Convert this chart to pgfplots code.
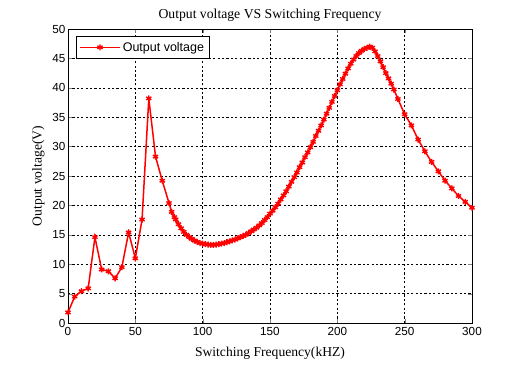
\documentclass[border=0pt]{standalone}
\usepackage{fontspec}
\setmainfont{Liberation Serif}
\newfontfamily\arial{Liberation Sans}
\usepackage{pgfplots}
\pgfplotsset{compat=1.18}
\pgfplotsset{longline legend/.style={legend image code/.code={\draw[mark repeat=2,mark phase=2,##1] plot coordinates {(0pt,0pt) (20pt,0pt) (40pt,0pt)};}}}
\begin{document}
\begin{tikzpicture}
\useasboundingbox (-68pt,-47pt) rectangle (457pt,323pt);
\begin{axis}[
  scale only axis, width=404pt, height=294pt,
  xmin=0, xmax=300, ymin=0, ymax=50,
  xtick={0,50,...,300}, ytick={0,5,...,50},
  tick pos=both, tick align=inside, major tick length=4pt,
  grid=major, major grid style={black, dash pattern=on 2.2pt off 2.2pt, line width=0.5pt},
  axis line style={line width=0.6pt},
  /pgf/number format/assume math mode=true,
  ticklabel style={font=\arial\fontsize{11.7}{13}\selectfont},
  xticklabel style={yshift=-1pt},
  yticklabel style={xshift=1pt},
  title={Output voltage VS Switching Frequency},
  title style={font=\fontsize{13.7}{15}\selectfont, yshift=-2pt},
  xlabel={Switching Frequency(kHZ)},
  ylabel={Output voltage(V)},
  label style={font=\fontsize{13.6}{15}\selectfont},
  xlabel style={yshift=-4pt},
  ylabel style={yshift=1pt},
  legend style={at={(0.02,0.975)}, anchor=north west, draw=black,
    font=\arial\fontsize{12.5}{14}\selectfont, inner xsep=3pt, inner ysep=3.5pt},
  legend cell align=left,
]
\addplot[color=red, draw=red, line width=1.5pt, mark=asterisk, mark size=3pt, mark options={draw=red, line width=1.4pt}, longline legend, legend image post style={draw=red, line width=1.5pt}]
coordinates {
(0,1.8)(5,4.5)(10,5.4)(15,5.9)(20,14.6)(25,9.1)(30,8.8)(35,7.6)(40,9.5)(45,15.4)(50,11.0)(55,17.6)(60,38.2)(65,28.3)(70,24.2)(75,20.4)(77,18.9)(79,18.0)
(80,17.6)(82,16.8)(84,16.1)(86,15.5)(88,15.0)(90,14.6)(92,14.3)(94,14.0)(96,13.8)(98,13.6)
(100,13.5)(102,13.4)(104,13.35)(106,13.3)(108,13.3)(110,13.35)(112,13.4)(114,13.5)(116,13.6)(118,13.75)
(120,13.9)(122,14.05)(124,14.2)(126,14.4)(128,14.6)(130,14.8)(132,15.0)(134,15.3)(136,15.6)(138,15.9)
(140,16.2)(142,16.6)(144,17.0)(146,17.5)(148,18.0)(150,18.6)(152,19.1)(154,19.7)(156,20.3)(158,21.0)
(160,21.7)(162,22.4)(164,23.2)(166,24.0)(168,24.8)(170,25.6)(172,26.5)(174,27.3)(176,28.2)(178,29.0)
(180,29.9)(182,30.8)(184,31.8)(186,32.7)(188,33.6)(190,34.6)(192,35.6)(194,36.6)(196,37.6)(198,38.6)
(200,39.6)(202,40.6)(204,41.5)(206,42.4)(208,43.3)(210,44.1)(212,44.8)(214,45.4)(216,45.9)(218,46.3)
(220,46.6)(222,46.8)(224,47.0)(226,46.8)(228,46.2)(230,45.4)(232,44.5)(234,43.5)(236,42.5)(238,41.6)
(240,40.7)(242,39.7)(245,38.1)(250,35.5)(255,33.6)(260,31.2)(265,29.2)(270,27.4)(275,25.8)
(280,24.2)(285,22.9)(290,21.6)(295,20.6)(300,19.6)
};
\addlegendentry{Output voltage}
\end{axis}
\end{tikzpicture}
\end{document}
